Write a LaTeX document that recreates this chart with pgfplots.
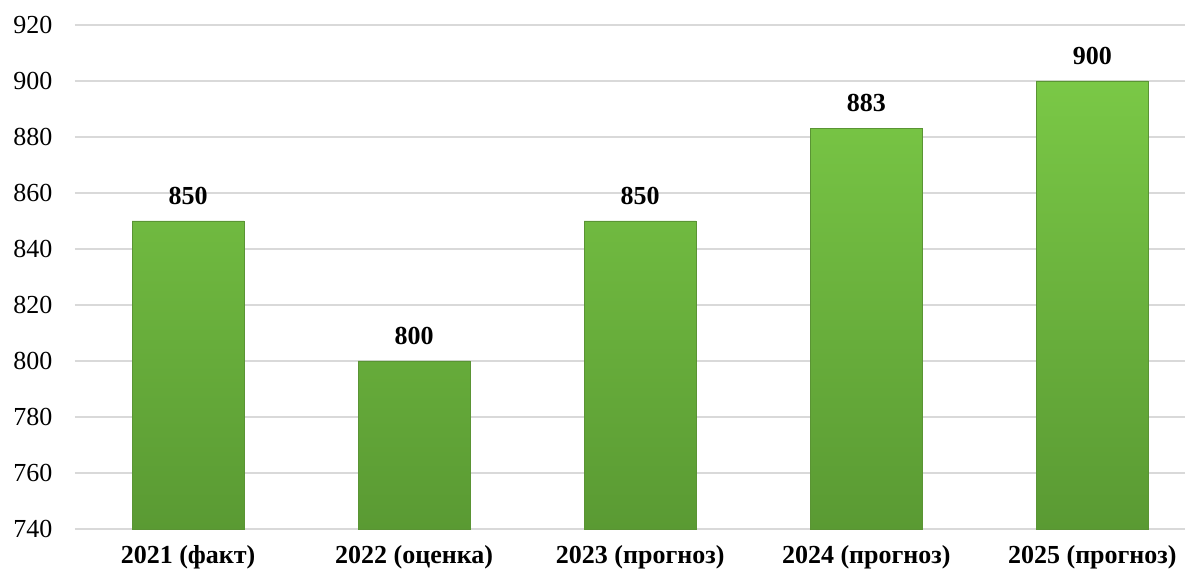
\documentclass[border=0pt]{standalone}
\usepackage{fontspec}
\setmainfont{Liberation Serif}
\usepackage{pgfplots}
\pgfplotsset{compat=1.18}
\definecolor{gridc}{HTML}{D9D9D9}
\definecolor{gtop}{HTML}{7AC846}
\definecolor{gbot}{HTML}{5A9A33}
\definecolor{gedge}{HTML}{5A9434}
\begin{document}
\begin{tikzpicture}
\path[use as bounding box] (-75pt,-46pt) rectangle (1117pt,529pt);
\begin{axis}[
  at={(0,0)}, anchor=south west,
  scale only axis,
  width=1110pt, height=504pt,
  xmin=-0.5, xmax=4.41,
  ymin=740, ymax=920,
  ytick={740,760,...,920},
  xtick={0,1,2,3,4},
  xticklabels={{2021 (факт)},{2022 (оценка)},{2023 (прогноз)},{2024 (прогноз)},{2025 (прогноз)}},
  x tick label style={font=\fontsize{26}{28}\selectfont\bfseries, yshift=-13pt},
  y tick label style={font=\fontsize{26}{28}\selectfont, xshift=-19pt},
  /pgf/number format/assume math mode=true,
  /pgf/number format/set thousands separator={},
  axis line style={draw=none},
  major tick length=0pt,
  ymajorgrids,
  grid style={gridc, line width=1.5pt},
  ybar,
  bar width=112pt,
  nodes near coords,
  every node near coord/.append style={font=\fontsize{26}{28}\selectfont\bfseries, black, yshift=13pt},
  point meta=explicit symbolic,
  clip=false,
]
\addplot[draw=gedge, line width=0.8pt, shade, top color=gtop, bottom color=gbot, bar shift=0pt]
  table[meta=lbl] {
x y lbl
0 850 850
1 800 800
2 850 850
3 883 883
4 900 900
};
\end{axis}
\end{tikzpicture}
\end{document}
